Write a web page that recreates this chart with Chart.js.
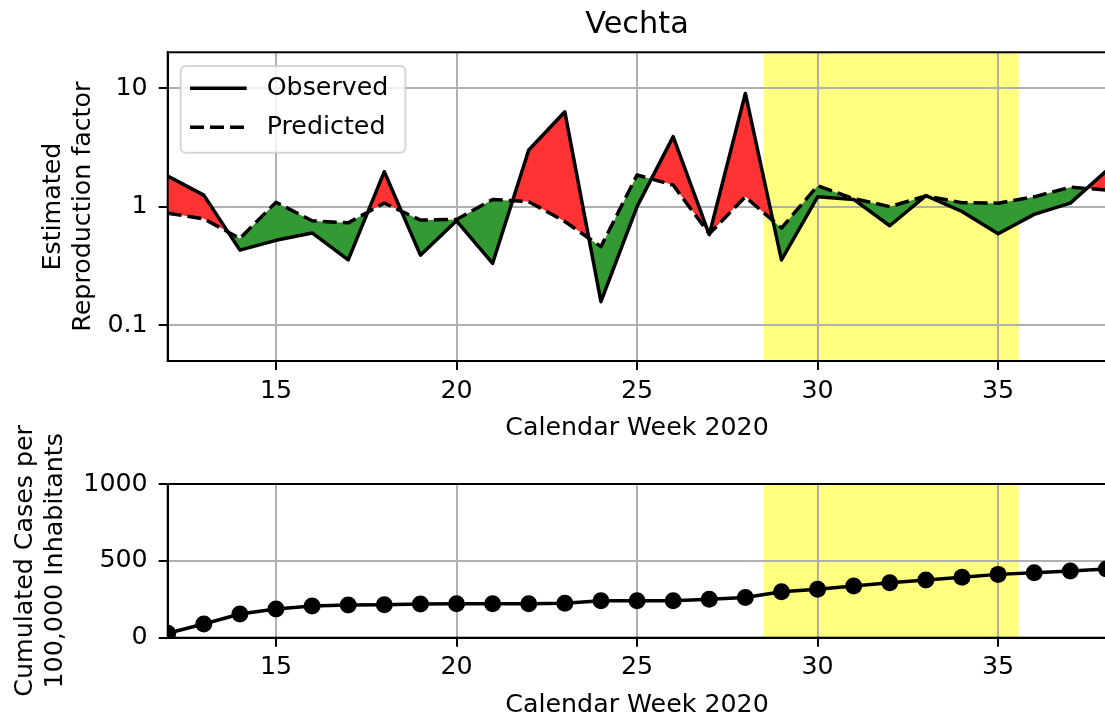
<!DOCTYPE html>
<html>
<head>
<meta charset="utf-8">
<title>Vechta</title>
<script src="https://cdn.jsdelivr.net/npm/chart.js@4.4.1/dist/chart.umd.min.js"></script>
<style>
  html, body { margin: 0; padding: 0; background: #fff; overflow: hidden; }
  #wrap { position: relative; width: 1105px; height: 722px; overflow: hidden; background: #fff; }
  canvas { position: absolute; left: 0; }
  #rChart { top: 0; }
  #casesChart { top: 420px; }
</style>
</head>
<body>
<div id="wrap">
  <canvas id="rChart" width="1110" height="450"></canvas>
  <canvas id="casesChart" width="1110" height="302"></canvas>
</div>
<script>
// Calendar weeks on the x axis
const weeks = [12, 13, 14, 15, 16, 17, 18, 19, 20, 21, 22, 23, 24, 25, 26, 27, 28, 29, 30, 31, 32, 33, 34, 35, 36, 37, 38];

// Estimated reproduction factor (log axis)
const observedR = [1.81, 1.25, 0.43, 0.52, 0.60, 0.356, 1.97, 0.39, 0.76, 0.333, 3.0, 6.3, 0.158, 1.0, 3.89, 0.58, 9.0, 0.355, 1.21, 1.15, 0.69, 1.24, 0.91, 0.59, 0.86, 1.07, 2.0];
const predictedR = [0.88, 0.79, 0.54, 1.09, 0.76, 0.73, 1.07, 0.77, 0.78, 1.15, 1.10, 0.75, 0.46, 1.85, 1.52, 0.59, 1.21, 0.66, 1.50, 1.17, 1.0, 1.23, 1.08, 1.07, 1.21, 1.46, 1.38];

// Cumulated cases per 100,000 inhabitants
const casesPer100k = [29, 89, 154, 187, 206, 213, 215, 219, 221, 221, 221, 224, 241, 241, 241, 250, 261, 299, 315, 336, 358, 375, 393, 412, 423, 434, 447];

// Tick labels
const weekTicks = [15, 20, 25, 30, 35];
const rTicks = [0.1, 1, 10];
const caseTicks = [0, 500, 1000];

// Highlighted period (calendar weeks)
const highlightWeeks = [28.5, 35.57];

const FONT_FAMILY = "'DejaVu Sans', sans-serif";
const FONT = { family: FONT_FAMILY, size: 25.3, lineHeight: 1.2 };
const PLOT_LEFT = 167.7; // space left of the plot area for ticks + y title

Chart.defaults.font.family = FONT_FAMILY;
Chart.defaults.color = "#000";

function toPoints(values) {
    return weeks.map((w, i) => ({ x: w, y: values[i] }));
}

// Yellow band behind everything
const highlightBand = {
    id: "highlightBand",
    beforeDraw(chart) {
        const { ctx, chartArea: a, scales } = chart;
        const x0 = scales.x.getPixelForValue(highlightWeeks[0]);
        const x1 = scales.x.getPixelForValue(highlightWeeks[1]);
        ctx.save();
        ctx.fillStyle = "#ffff80";
        ctx.fillRect(x0, a.top, x1 - x0, a.height);
        ctx.restore();
    }
};

// matplotlib-like box around the axes
const frameLines = {
    id: "frameLines",
    afterDatasetsDraw(chart) {
        const { ctx, chartArea: a } = chart;
        ctx.save();
        ctx.strokeStyle = "#000";
        ctx.lineWidth = 2;
        ctx.strokeRect(a.left, a.top, a.right - a.left, a.bottom - a.top);
        ctx.restore();
    }
};

// Legend inside the plot, upper left, with a rounded frame
const boxedLegend = {
    id: "boxedLegend",
    afterDraw(chart) {
        const { ctx, chartArea: a } = chart;
        const sets = chart.data.datasets.filter(d => d.label);
        ctx.save();
        ctx.font = `${FONT.size}px ${FONT_FAMILY}`;
        const textW = Math.max(...sets.map(d => ctx.measureText(d.label).width));
        const x = a.left + 13;
        const y = a.top + 13.7;
        const w = 86 + textW + 17;
        const h = 86.7;
        ctx.beginPath();
        if (ctx.roundRect) ctx.roundRect(x, y, w, h, 5);
        else ctx.rect(x, y, w, h);
        ctx.fillStyle = "rgba(255,255,255,0.8)";
        ctx.fill();
        ctx.strokeStyle = "rgba(204,204,204,0.8)";
        ctx.lineWidth = 2;
        ctx.stroke();

        sets.forEach((d, i) => {
            const rowY = y + 22.3 + i * 39;
            ctx.beginPath();
            ctx.setLineDash(d.borderDash || []);
            ctx.lineWidth = d.borderWidth;
            ctx.strokeStyle = d.borderColor;
            ctx.moveTo(x + 9.3, rowY);
            ctx.lineTo(x + 66, rowY);
            ctx.stroke();
            ctx.setLineDash([]);
            ctx.fillStyle = "#000";
            ctx.textBaseline = "middle";
            ctx.textAlign = "left";
            ctx.fillText(d.label, x + 86, rowY);
        });
        ctx.restore();
    }
};

const gridStyle = { color: "#b0b0b0", lineWidth: 2, tickColor: "#000", tickWidth: 2, tickLength: 9 };
const borderStyle = { color: "#000", width: 2 };

function weekAxis(axisHeight, titlePadBottom) {
    return {
        type: "linear",
        min: 12,
        max: 38,
        bounds: "data",
        afterBuildTicks: s => { s.ticks = weekTicks.map(v => ({ value: v })); },
        afterFit: s => { s.height = axisHeight; },
        grid: gridStyle,
        border: borderStyle,
        ticks: { font: FONT, color: "#000", padding: 6, maxRotation: 0, autoSkip: false },
        title: {
            display: true,
            text: "Calendar Week 2020",
            font: FONT,
            color: "#000",
            padding: { top: 0, bottom: titlePadBottom }
        }
    };
}

function valueAxis(type, min, max, ticks, titleText, titlePadTop) {
    return {
        type: type,
        min: min,
        max: max,
        bounds: "data",
        afterBuildTicks: s => { s.ticks = ticks.map(v => ({ value: v })); },
        afterFit: s => { s.width = PLOT_LEFT; },
        grid: gridStyle,
        border: borderStyle,
        ticks: { font: FONT, color: "#000", padding: 11, callback: v => String(v) },
        title: {
            display: true,
            text: titleText,
            font: FONT,
            color: "#000",
            padding: { top: titlePadTop, bottom: 0 }
        }
    };
}

// Top: observed vs predicted reproduction factor
new Chart(document.getElementById("rChart").getContext("2d"), {
    type: "line",
    data: {
        datasets: [
            {
                label: "Observed",
                data: toPoints(observedR),
                borderColor: "#000",
                borderWidth: 3.5,
                borderJoinStyle: "round",
                pointRadius: 0,
                clip: 0,
                fill: { target: 1, above: "#ff3333", below: "#339933" }
            },
            {
                label: "Predicted",
                data: toPoints(predictedR),
                borderColor: "#000",
                borderWidth: 3.5,
                borderDash: [14, 6],
                borderJoinStyle: "round",
                pointRadius: 0,
                clip: 0,
                fill: false
            }
        ]
    },
    options: {
        responsive: false,
        animation: false,
        devicePixelRatio: 1,
        layout: { autoPadding: false, padding: { left: 0, right: 3.6, top: 0, bottom: 0 } },
        scales: {
            x: weekAxis(89, 6.3),
            y: valueAxis("logarithmic", 0.05, 20, rTicks, ["Estimated", "Reproduction factor"], 37.8)
        },
        plugins: {
            legend: { display: false },
            tooltip: { enabled: false },
            filler: { propagate: false, drawTime: "beforeDatasetsDraw" },
            title: {
                display: true,
                text: "Vechta",
                fullSize: false,
                color: "#000",
                font: { family: FONT_FAMILY, size: 30.4, weight: "normal", lineHeight: 1.2 },
                padding: { top: 7.3, bottom: 8.5 }
            }
        }
    },
    plugins: [highlightBand, frameLines, boxedLegend]
});

// Bottom: cumulated cases (canvas overlaps the top one so the long y title fits)
new Chart(document.getElementById("casesChart").getContext("2d"), {
    type: "line",
    data: {
        datasets: [{
            label: "Cumulated cases",
            data: toPoints(casesPer100k),
            borderColor: "#000",
            backgroundColor: "#000",
            borderWidth: 3.5,
            pointRadius: 8.5,
            pointBackgroundColor: "#000",
            pointBorderWidth: 0,
            clip: 0,
            fill: false
        }]
    },
    options: {
        responsive: false,
        animation: false,
        devicePixelRatio: 1,
        layout: { autoPadding: false, padding: { left: 0, right: 3.6, top: 64, bottom: 0 } },
        scales: {
            x: weekAxis(84.3, 1.6),
            y: valueAxis("linear", 0, 1000, caseTicks, ["Cumulated Cases per", "100,000 Inhabitants"], 10.3)
        },
        plugins: {
            legend: { display: false },
            tooltip: { enabled: false }
        }
    },
    plugins: [highlightBand, frameLines]
});
</script>
</body>
</html>
